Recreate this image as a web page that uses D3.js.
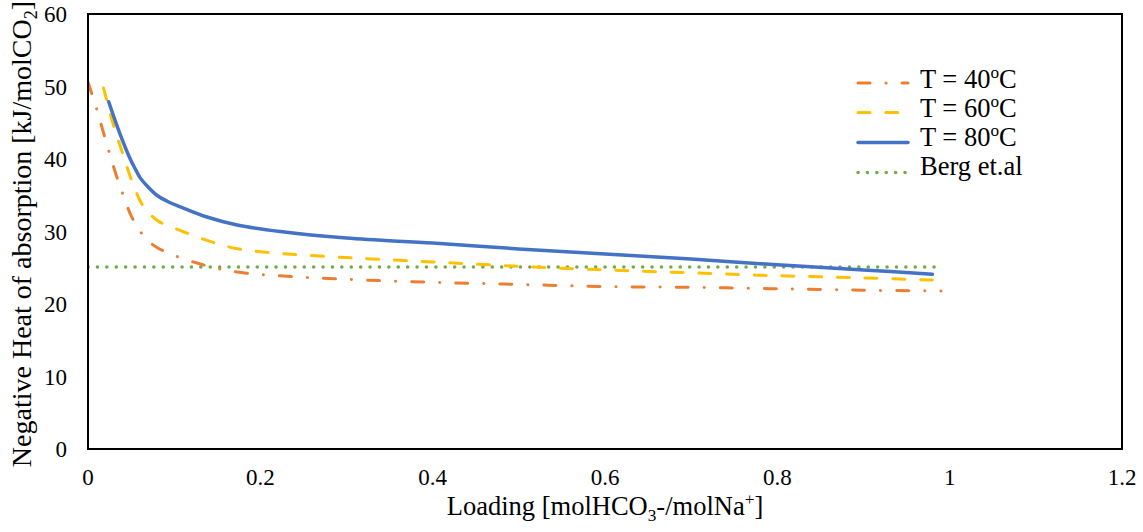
<!DOCTYPE html>
<html>
<head>
<meta charset="utf-8">
<script src="https://cdn.jsdelivr.net/npm/d3@7"></script>
<style>
  html, body { margin: 0; padding: 0; background: #fff; }
  svg text { font-family: "Liberation Serif", "Times New Roman", serif; fill: #000; }
</style>
</head>
<body>
<svg id="chart" width="1143" height="532"></svg>
<script>
// Heat of absorption vs. loading, three temperatures plus the Berg et al. reference level
const loading40 = [0, 0.01, 0.02, 0.03, 0.04, 0.05, 0.06, 0.07, 0.08, 0.10, 0.125, 0.15, 0.18, 0.22, 0.3, 0.4, 0.5, 0.6, 0.7, 0.8, 0.9, 0.99];
const heat40    = [50.6, 46.9, 42.8, 38.8, 35.3, 32.2, 30.1, 28.7, 27.8, 26.7, 25.7, 24.9, 24.3, 23.9, 23.4, 23.0, 22.7, 22.4, 22.3, 22.1, 21.9, 21.8];

const loading60 = [0.018, 0.029, 0.039, 0.049, 0.062, 0.072, 0.082, 0.11, 0.14, 0.17, 0.21, 0.3, 0.4, 0.5, 0.6, 0.7, 0.8, 0.9, 0.98];
const heat60    = [49.8, 44.9, 41.2, 37.6, 33.9, 32.4, 31.4, 30.0, 28.7, 27.7, 27.1, 26.4, 25.8, 25.2, 24.7, 24.3, 23.9, 23.6, 23.3];

const loading80 = [0.024, 0.037, 0.049, 0.055, 0.06, 0.07, 0.08, 0.093, 0.107, 0.138, 0.173, 0.223, 0.3, 0.4, 0.5, 0.6, 0.7, 0.8, 0.9, 0.98];
const heat80    = [47.9, 43.5, 40.0, 38.6, 37.5, 36.1, 35.0, 34.1, 33.4, 32.0, 30.9, 30.0, 29.1, 28.4, 27.6, 26.9, 26.2, 25.4, 24.7, 24.1];

const loadingBerg = [0, 0.986];
const heatBerg    = [25.1, 25.1];

const xTicks = [0, 0.2, 0.4, 0.6, 0.8, 1, 1.2];
const yTicks = [0, 10, 20, 30, 40, 50, 60];

const seriesNames = ["T = 40", "T = 60", "T = 80", "Berg et.al"];

const svg = d3.select("#chart");
const plot = { left: 88, right: 1122, top: 14, bottom: 449 };

const x = d3.scaleLinear().domain([0, 1.2]).range([plot.left, plot.right]);
const y = d3.scaleLinear().domain([0, 60]).range([plot.bottom, plot.top]);

// Text helper with sub/superscript parts
function label(parent, px, py, size, anchor, parts, rotate) {
  const g = parent.append("g")
    .attr("transform", `translate(${px},${py})` + (rotate ? ` rotate(${rotate})` : ""));
  const t = g.append("text").attr("font-size", size).attr("text-anchor", anchor);
  parts.forEach(p => {
    const ts = t.append("tspan").text(p.t);
    if (p.s === "sub") ts.attr("font-size", size * 0.65).attr("dy", size * 0.22);
    if (p.s === "sup") ts.attr("font-size", size * 0.65).attr("dy", -size * 0.36);
    if (p.s === "reset-sub") ts.attr("dy", -size * 0.22);
    if (p.s === "reset-sup") ts.attr("dy", size * 0.36);
  });
  return g;
}

// Tick labels
xTicks.forEach(v => label(svg, x(v), 485, 23, "middle", [{ t: d3.format("~g")(v) }]));
yTicks.forEach(v => label(svg, 67, y(v) + 8, 23, "end", [{ t: String(v) }]));

// Series lines
const line = d3.line()
  .x(d => x(d[0]))
  .y(d => y(d[1]))
  .curve(d3.curveCatmullRom.alpha(0.5));

const series = [
  { lx: loading40, hy: heat40, color: "#ED7D31", width: 3, dash: "12,16,0.1,16" },
  { lx: loading60, hy: heat60, color: "#FFC000", width: 3, dash: "12,15.7" },
  { lx: loading80, hy: heat80, color: "#4472C4", width: 3.5, dash: null },
  { lx: loadingBerg, hy: heatBerg, color: "#70AD47", width: 3.5, dash: "0.1,9.3" }
];

const clipId = "plotclip";
svg.append("clipPath").attr("id", clipId)
  .append("rect").attr("x", plot.left).attr("y", plot.top - 5)
  .attr("width", plot.right - plot.left).attr("height", plot.bottom - plot.top + 5);

const lines = svg.append("g").attr("clip-path", `url(#${clipId})`);
// Berg first so the temperature curves sit on top of it
[3, 0, 1, 2].forEach(i => {
  const s = series[i];
  const pts = s.lx.map((v, j) => [v, s.hy[j]]);
  lines.append("path")
    .attr("d", line(pts))
    .attr("fill", "none")
    .attr("stroke", s.color)
    .attr("stroke-width", s.width)
    .attr("stroke-linecap", "round")
    .attr("stroke-linejoin", "round")
    .attr("stroke-dasharray", s.dash);
});

// Plot frame
svg.append("rect")
  .attr("x", plot.left).attr("y", plot.top)
  .attr("width", plot.right - plot.left).attr("height", plot.bottom - plot.top)
  .attr("fill", "none").attr("stroke", "#000").attr("stroke-width", 2);

// Legend
const legendLineY = [83, 112.5, 142.5, 172.5];
const legendTextY = [88, 117, 146, 175];
series.forEach((s, i) => {
  svg.append("line")
    .attr("x1", 858).attr("x2", 908).attr("y1", legendLineY[i]).attr("y2", legendLineY[i])
    .attr("stroke", s.color).attr("stroke-width", s.width)
    .attr("stroke-linecap", "round")
    .attr("stroke-dasharray", s.dash);
  const parts = i < 3
    ? [{ t: seriesNames[i] }, { t: "o", s: "sup" }, { t: "C", s: "reset-sup" }]
    : [{ t: seriesNames[i] }];
  label(svg, 920, legendTextY[i], 26.5, "start", parts);
});

// Axis titles
label(svg, 605, 515, 26.5, "middle", [
  { t: "Loading [molHCO" }, { t: "3", s: "sub" }, { t: "-/molNa", s: "reset-sub" },
  { t: "+", s: "sup" }, { t: "]", s: "reset-sup" }
]);
label(svg, 31, 234, 28, "middle", [
  { t: "Negative Heat of absorption [kJ/molCO" }, { t: "2", s: "sub" }, { t: "]", s: "reset-sub" }
], -90);
</script>
</body>
</html>
